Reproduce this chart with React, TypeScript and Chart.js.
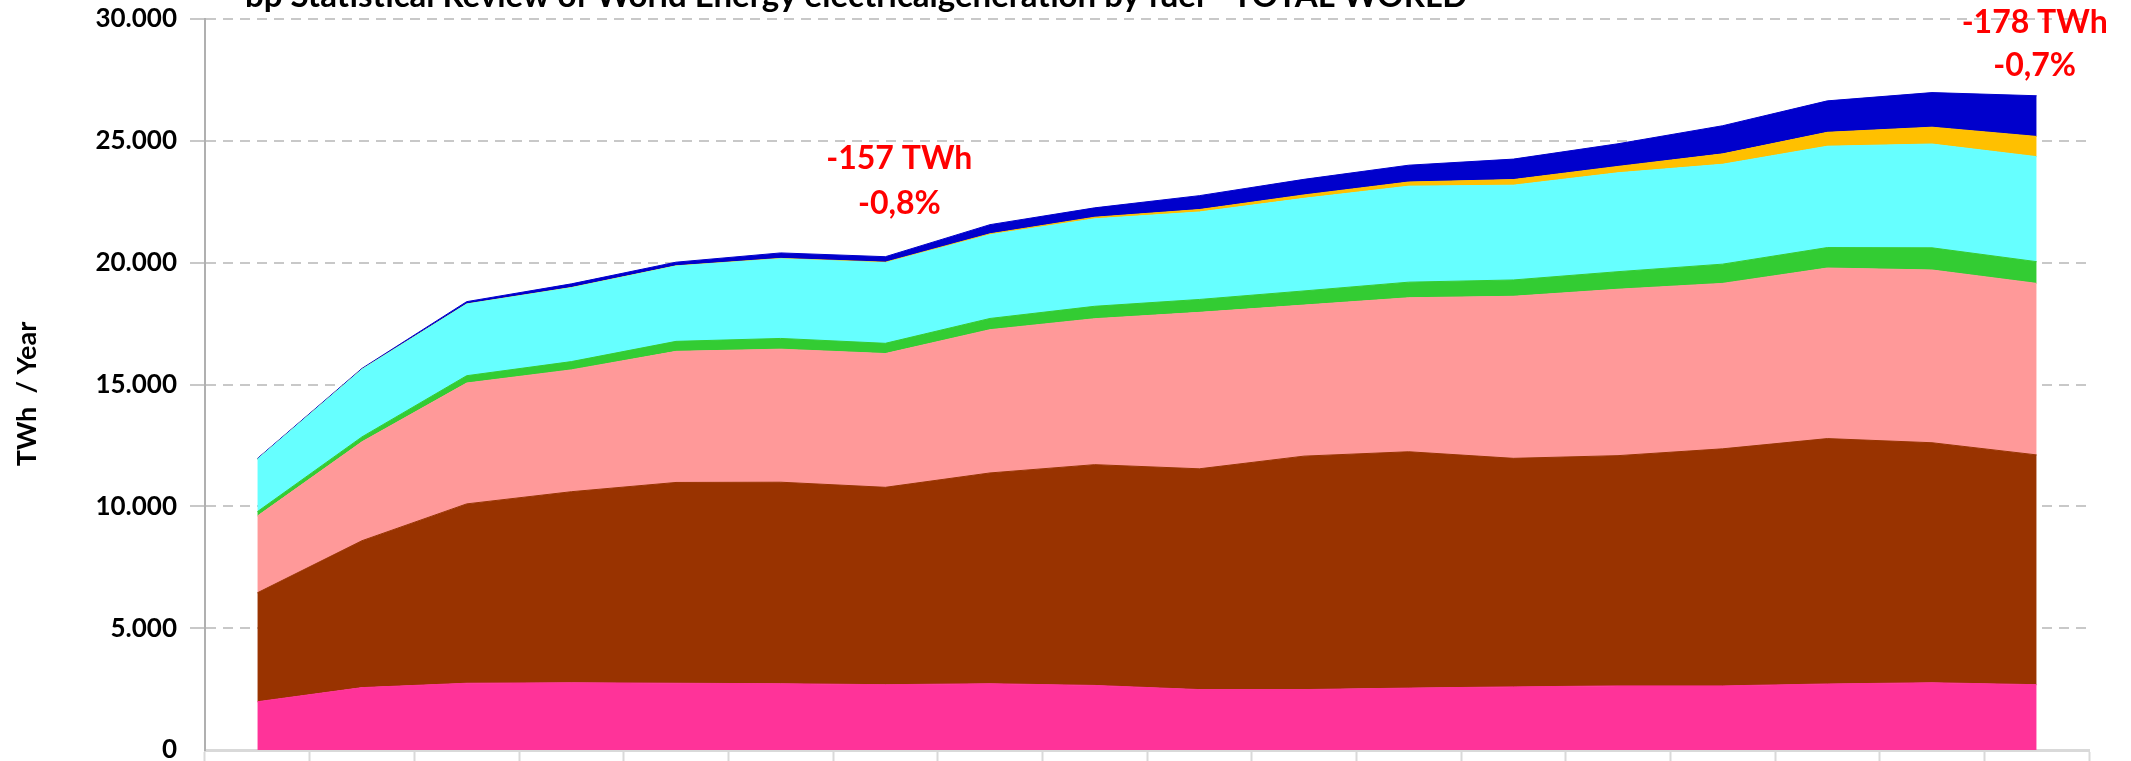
import React, { useEffect, useRef } from 'react';
import { Chart, registerables } from 'chart.js';

Chart.register(...registerables);

// ---- data (TWh / year) ----
const years = ['1990', '2000', '2005', '2006', '2007', '2008', '2009', '2010', '2011', '2012', '2013', '2014', '2015', '2016', '2017', '2018', '2019', '2020'];
const nuclear = [1980, 2560, 2740, 2760, 2740, 2720, 2680, 2720, 2650, 2480, 2480, 2540, 2590, 2630, 2630, 2710, 2760, 2680];
const coal = [4470, 6030, 7360, 7840, 8240, 8270, 8100, 8650, 9060, 9060, 9580, 9700, 9380, 9450, 9730, 10070, 9850, 9430];
const oilGas = [3150, 4060, 4960, 5000, 5380, 5460, 5490, 5880, 5990, 6420, 6200, 6320, 6650, 6830, 6790, 7000, 7090, 7040];
const otherRenew = [180, 200, 300, 340, 410, 440, 420, 460, 510, 530, 580, 640, 670, 720, 790, 840, 910, 890];
const hydro = [2150, 2770, 2940, 3030, 3090, 3270, 3310, 3440, 3590, 3590, 3800, 3940, 3890, 4060, 4100, 4160, 4260, 4310];
const solar = [0, 5, 5, 10, 10, 15, 20, 35, 65, 100, 140, 170, 230, 260, 425, 570, 690, 830];
const wind = [30, 35, 95, 150, 150, 225, 225, 375, 385, 570, 640, 690, 840, 930, 1155, 1290, 1420, 1670];

const seriesNames = ['Nuclear', 'Coal', 'Oil & Gas', 'Other renewables', 'Hydro', 'Solar', 'Wind'];
const seriesColors = ['#FF3399', '#993300', '#FF9999', '#33CC33', '#66FFFF', '#FFC000', '#0000CC'];
const seriesData = [nuclear, coal, oilGas, otherRenew, hydro, solar, wind];

const yTicks = [0, 5000, 10000, 15000, 20000, 25000, 30000];

const chartTitle = 'bp Statistical Review of World Energy electricalgeneration by fuel - TOTAL WORLD';
const yAxisTitle = 'TWh  / Year';

const annotationIndex = [6, 17];
const annotationLines = [
  ['-157 TWh', '-0,8%'],
  ['-178 TWh', '-0,7%'],
];

const FONT = 'Lato, "Open Sans", "DejaVu Sans", sans-serif';

function fmt(v: number): string {
  return String(Math.round(v)).replace(/\B(?=(\d{3})+(?!\d))/g, '.');
}

export default function App() {
  const ref = useRef<HTMLCanvasElement>(null);

  useEffect(() => {
    const canvas = ref.current;
    if (!canvas) return;

    const overlay = {
      id: 'overlay',
      afterDraw(chart: any) {
        const { ctx, chartArea, scales } = chart;
        const x = scales.x;
        const y = scales.y;
        ctx.save();
        // title (clipped at top like the reference)
        ctx.fillStyle = '#000';
        ctx.font = `bold 33px ${FONT}`;
        ctx.textAlign = 'left';
        ctx.textBaseline = 'alphabetic';
        ctx.fillText(chartTitle, chartArea.left + 40, 7);

        // y axis title
        ctx.save();
        ctx.translate(27, 394);
        ctx.rotate(-Math.PI / 2);
        ctx.font = `bold 27px ${FONT}`;
        ctx.textAlign = 'center';
        ctx.textBaseline = 'middle';
        ctx.fillText(yAxisTitle, 0, 0);
        ctx.restore();

        // annotations
        ctx.fillStyle = '#FF0000';
        ctx.font = `bold 32px ${FONT}`;
        ctx.textAlign = 'center';
        ctx.textBaseline = 'alphabetic';
        const placements = [
          { dx: 14, v1: 23850, v2: 22000 },
          { dx: -2, v1: 29430, v2: 27650 },
        ];
        annotationIndex.forEach((idx, k) => {
          const px = x.getPixelForValue(idx) + placements[k].dx;
          ctx.fillText(annotationLines[k][0], px, y.getPixelForValue(placements[k].v1));
          ctx.fillText(annotationLines[k][1], px, y.getPixelForValue(placements[k].v2));
        });
        ctx.restore();
      },
    };

    const chart = new Chart(canvas, {
      type: 'line',
      data: {
        labels: years,
        datasets: seriesData.map((d, i) => ({
          label: seriesNames[i],
          data: d,
          backgroundColor: seriesColors[i],
          borderColor: seriesColors[i],
          borderWidth: 1,
          pointRadius: 0,
          pointHoverRadius: 0,
          tension: 0,
          fill: i === 0 ? 'origin' : '-1',
        })),
      },
      options: {
        animation: false,
        responsive: false,
        devicePixelRatio: 1,
        events: [],
        layout: { padding: { top: 19, left: 0, right: 42, bottom: 0 } },
        plugins: {
          legend: { display: false },
          title: { display: false },
          tooltip: { enabled: false },
        },
        scales: {
          x: {
            type: 'category',
            offset: true,
            grid: {
              display: true,
              offset: true,
              drawOnChartArea: false,
              drawTicks: true,
              tickLength: 12,
              tickColor: '#D9D9D9',
              tickWidth: 2,
            },
            border: { display: true, color: '#D9D9D9', width: 3 },
            ticks: { display: false },
            afterFit: (s: any) => {
              s.height = 11;
              s.paddingLeft = 0;
              s.paddingRight = 0;
            },
          },
          y: {
            stacked: true,
            min: 0,
            max: 30000,
            afterBuildTicks: (s: any) => {
              s.ticks = yTicks.map((v) => ({ value: v }));
            },
            grid: {
              color: (c: any) => (c.tick && c.tick.value === 0 ? 'rgba(0,0,0,0)' : '#C8C8C8'),
              lineWidth: 2,
              drawTicks: true,
              tickLength: 15,
              tickColor: (c: any) => (c.tick && c.tick.value === 0 ? 'rgba(0,0,0,0)' : '#C8C8C8'),
              tickWidth: 2,
            },
            border: { display: true, color: '#B0B0B0', width: 2, dash: [10, 7] },
            ticks: {
              padding: 13,
              color: '#000',
              font: { family: FONT, size: 26, weight: 'bold' },
              callback: (v: any) => fmt(Number(v)),
            },
            afterFit: (s: any) => {
              s.width = 205;
              s.paddingTop = 0;
              s.paddingBottom = 0;
            },
          },
        },
      },
      plugins: [overlay],
    } as any);

    const fonts: any = (document as any).fonts;
    if (fonts && fonts.load) {
      Promise.all([fonts.load(`bold 27px Lato`)]).then(() => chart.update()).catch(() => {});
    }

    return () => {
      chart.destroy();
    };
  }, []);

  return (
    <div style={{ position: 'fixed', left: 0, top: 0, width: 2131, height: 761, overflow: 'hidden', background: '#fff' }}>
      <canvas ref={ref} width={2131} height={761} style={{ display: 'block', width: 2131, height: 761 }} />
    </div>
  );
}
